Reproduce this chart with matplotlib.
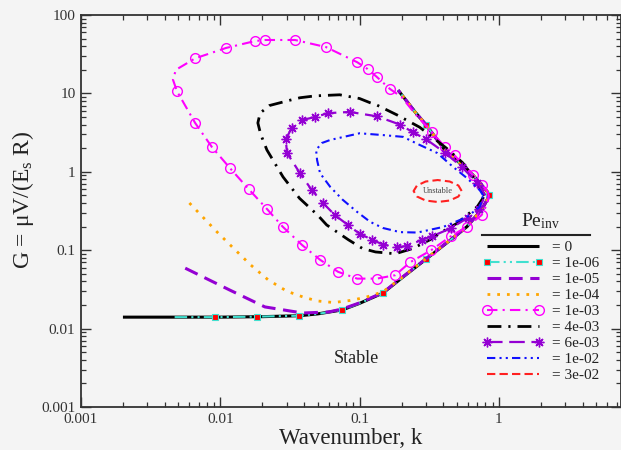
import matplotlib
matplotlib.use("Agg")
import matplotlib.pyplot as plt
import matplotlib.ticker as mticker

plt.rcParams['font.family'] = ['Liberation Serif', 'DejaVu Serif']
plt.rcParams['mathtext.fontset'] = 'custom'
plt.rcParams['mathtext.rm'] = 'Liberation Serif'
plt.rcParams['mathtext.it'] = 'Liberation Serif:italic'

# ---------------- data ----------------
pe_labels = ["= 0", "= 1e-06", "= 1e-05", "= 1e-04", "= 1e-03",
             "= 4e-03", "= 6e-03", "= 1e-02", "= 3e-02"]

k_pe0 = [0.002, 0.005, 0.01, 0.02, 0.037, 0.05, 0.075, 0.1, 0.147, 0.2, 0.3, 0.4, 0.5,
         0.59, 0.7, 0.78, 0.83, 0.845, 0.83, 0.75, 0.65, 0.55, 0.41, 0.3, 0.25, 0.189]
G_pe0 = [0.014, 0.014, 0.014, 0.0142, 0.0146, 0.0154, 0.0173, 0.021, 0.0284, 0.044, 0.077,
         0.115, 0.157, 0.2, 0.285, 0.37, 0.45, 0.5, 0.55, 0.68, 0.91, 1.2, 1.88, 3.96, 5.8, 11]

k_pe1e6 = [0.0047, 0.0092, 0.0183, 0.0367, 0.05, 0.075, 0.1, 0.147, 0.2, 0.3, 0.4, 0.5,
           0.59, 0.7, 0.78, 0.83, 0.845, 0.83, 0.75, 0.65, 0.55, 0.41, 0.3, 0.25, 0.189]
G_pe1e6 = [0.014, 0.014, 0.0142, 0.0146, 0.0154, 0.0173, 0.021, 0.0284, 0.044, 0.077,
           0.115, 0.157, 0.2, 0.285, 0.37, 0.45, 0.5, 0.55, 0.68, 0.91, 1.2, 1.88, 3.96, 5.8, 11]

k_pe1e5 = [0.0056, 0.0117, 0.0209, 0.039, 0.06, 0.075, 0.1, 0.147, 0.2, 0.3, 0.4, 0.5,
           0.59, 0.7, 0.78, 0.83, 0.845, 0.83, 0.75, 0.65, 0.55, 0.41, 0.3, 0.25, 0.189]
G_pe1e5 = [0.059, 0.031, 0.0189, 0.0158, 0.0163, 0.0178, 0.0213, 0.0288, 0.0445, 0.078,
           0.116, 0.158, 0.2, 0.285, 0.37, 0.45, 0.5, 0.55, 0.68, 0.91, 1.2, 1.88, 3.96, 5.8, 11]

k_pe1e4 = [0.006, 0.0095, 0.0125, 0.0165, 0.022, 0.03, 0.04, 0.05, 0.065, 0.085, 0.11,
           0.147, 0.2, 0.3, 0.4, 0.5, 0.59, 0.7, 0.78, 0.83, 0.845, 0.83, 0.75, 0.65, 0.55,
           0.41, 0.3, 0.25, 0.189]
G_pe1e4 = [0.4, 0.17, 0.105, 0.065, 0.042, 0.03, 0.025, 0.0225, 0.0215, 0.0228, 0.025,
           0.0295, 0.0445, 0.078, 0.116, 0.158, 0.2, 0.285, 0.37, 0.45, 0.5, 0.55, 0.68,
           0.91, 1.2, 1.88, 3.96, 5.8, 11]

k_pe1e3 = [0.845, 0.83, 0.76, 0.65, 0.48, 0.41, 0.33, 0.25, 0.2, 0.165, 0.133, 0.114, 0.096,
           0.0573, 0.0344, 0.021, 0.0178, 0.011, 0.0066, 0.0048, 0.00457, 0.00488, 0.0066,
           0.0087, 0.0117, 0.016, 0.0216, 0.028, 0.0387, 0.052, 0.07, 0.096, 0.133, 0.18,
           0.23, 0.326, 0.45, 0.59, 0.75, 0.83, 0.845]
G_pe1e3 = [0.5, 0.56, 0.68, 0.91, 1.62, 2.07, 3.2, 5.5, 9.0, 11.4, 16.2, 20.5, 25, 39, 48,
           48, 46.6, 38, 28, 20, 15, 10.7, 4.19, 2.07, 1.12, 0.6, 0.336, 0.2, 0.116, 0.0755,
           0.053, 0.0434, 0.0434, 0.048, 0.07, 0.1, 0.15, 0.2, 0.28, 0.4, 0.5]

k_pe4e3 = [0.79, 0.7, 0.55, 0.42, 0.33, 0.27, 0.186, 0.133, 0.119, 0.1, 0.072, 0.048, 0.0373,
           0.0317, 0.0225, 0.0193, 0.0186, 0.0195, 0.0216, 0.0282, 0.037, 0.05, 0.058, 0.083,
           0.105, 0.13, 0.18, 0.24, 0.32, 0.376, 0.5, 0.7, 0.79]
G_pe4e3 = [0.5, 0.72, 1.3, 2.0, 2.8, 3.7, 5.3, 7.1, 7.6, 8.6, 9.6, 9.3, 8.8, 8.2, 7.0, 5.6,
           4.2, 3.0, 1.9, 0.86, 0.46, 0.28, 0.21, 0.136, 0.105, 0.095, 0.09, 0.105, 0.136,
           0.165, 0.22, 0.36, 0.5]

k_pe6e3 = [0.8, 0.7, 0.54, 0.41, 0.3, 0.241, 0.195, 0.133, 0.085, 0.0593, 0.048, 0.0387,
           0.0325, 0.0295, 0.0301, 0.0373, 0.0455, 0.0546, 0.0665, 0.0823, 0.1, 0.123, 0.147,
           0.185, 0.22, 0.28, 0.33, 0.45, 0.6, 0.72, 0.8]
G_pe6e3 = [0.5, 0.72, 1.16, 1.75, 2.6, 3.2, 4.0, 5.1, 5.8, 5.6, 5.0, 4.58, 3.6, 2.6, 1.74,
           0.96, 0.58, 0.40, 0.28, 0.21, 0.162, 0.136, 0.118, 0.11, 0.113, 0.136, 0.15, 0.19,
           0.26, 0.34, 0.5]

k_pe1e2 = [0.77, 0.73, 0.59, 0.47, 0.36, 0.27, 0.205, 0.147, 0.1, 0.0616, 0.0536, 0.0487,
           0.0495, 0.052, 0.0616, 0.0756, 0.0955, 0.119, 0.147, 0.195, 0.26, 0.398, 0.59,
           0.73, 0.77]
G_pe1e2 = [0.5, 0.58, 0.83, 1.15, 1.74, 2.2, 2.79, 2.94, 3.1, 2.55, 2.33, 1.9, 1.41, 0.96,
           0.64, 0.44, 0.31, 0.23, 0.192, 0.17, 0.168, 0.198, 0.265, 0.36, 0.5]

k_pe3e2 = [0.54, 0.512, 0.443, 0.363, 0.298, 0.258, 0.244, 0.258, 0.298, 0.363, 0.443,
           0.512, 0.54]
G_pe3e2 = [0.569, 0.668, 0.752, 0.785, 0.752, 0.668, 0.569, 0.484, 0.43, 0.412, 0.43,
           0.484, 0.569]

x_ticks = [0.001, 0.01, 0.1, 1]
y_ticks = [0.001, 0.01, 0.1, 1, 10, 100]

# ---------------- figure ----------------
bg = '#f4f4f4'
fig = plt.figure(figsize=(6.21, 4.5), dpi=100, facecolor=bg)
ax = fig.add_axes([81/621, 43/450, 540/621, 392/450], facecolor=bg)

handles = []
h, = ax.plot(k_pe0, G_pe0, color='black', lw=2.2, solid_capstyle='butt')
handles.append(h)
h, = ax.plot(k_pe1e6, G_pe1e6, color='#40E0D0', lw=1.5,
             linestyle=(0, (6, 2, 1, 2, 1, 2)),
             marker='s', ms=4.5, mfc='red', mec='#40E0D0', mew=0.8,
             markevery=[1, 2, 3, 5, 7, 9, 16, 22])
handles.append(h)
h, = ax.plot(k_pe1e5, G_pe1e5, color='#9400D3', lw=2.2, linestyle=(0, (4.5, 2.5)))
handles.append(h)
h, = ax.plot(k_pe1e4, G_pe1e4, color='#FFA500', lw=2.0, linestyle=(0, (1, 2.5)))
handles.append(h)
h, = ax.plot(k_pe1e3, G_pe1e3, color='#FF00FF', lw=1.5, linestyle=(0, (5, 2.5, 1, 2.5)),
             marker='o', ms=7, mfc='none', mec='#FF00FF', mew=1.0,
             markevery=[2, 3, 4, 5, 6, 9, 10, 11, 12, 13, 14, 15, 16, 17, 18, 21, 22, 23, 24,
                        25, 26, 27, 28, 29, 30, 31, 32, 33, 34, 35, 36, 37, 38])
handles.append(h)
h, = ax.plot(k_pe4e3, G_pe4e3, color='black', lw=2.0, linestyle=(0, (5, 2.5, 0.8, 2.5)))
handles.append(h)
h, = ax.plot(k_pe6e3, G_pe6e3, color='#9400D3', lw=1.6, linestyle=(0, (7, 3)),
             marker=(8, 2, 0), ms=7, mec='#9400D3', mew=1.0,
             markevery=list(range(1, 30)))
handles.append(h)
h, = ax.plot(k_pe1e2, G_pe1e2, color='#1010FF', lw=1.5, linestyle=(0, (4, 2, 1, 2, 1, 2)))
handles.append(h)
h, = ax.plot(k_pe3e2, G_pe3e2, color='#FF2020', lw=1.5, linestyle=(0, (4, 2)))
handles.append(h)

ax.set_xscale('log')
ax.set_yscale('log')
ax.set_xlim(0.001, 7.52)
ax.set_ylim(0.001, 100)

fmt = mticker.FuncFormatter(lambda v, _: f"{v:g}")
ax.set_xticks(x_ticks)
ax.set_yticks(y_ticks)
ax.xaxis.set_major_formatter(fmt)
ax.yaxis.set_major_formatter(fmt)
ax.xaxis.set_minor_locator(mticker.LogLocator(base=10, subs=range(2, 10)))
ax.yaxis.set_minor_locator(mticker.LogLocator(base=10, subs=range(2, 10)))
ax.xaxis.set_minor_formatter(mticker.NullFormatter())
ax.yaxis.set_minor_formatter(mticker.NullFormatter())
ax.tick_params(which='both', direction='in', top=True, right=True, colors='#333333',
               labelsize=11)
ax.tick_params(which='major', length=7, width=1.0, pad=4)
ax.tick_params(which='minor', length=3.5, width=0.9)
for s in ax.spines.values():
    s.set_color('#333333')
    s.set_linewidth(1.3)

ax.set_xlabel('Wavenumber, k', fontsize=16.5, color='#222222', labelpad=2)
ax.set_ylabel(r'G = μV/(E$_{\mathrm{s}}$ R)', fontsize=17, color='#222222')
ax.yaxis.set_label_coords(-0.084, 0.528)

ax.text(0.0943, 0.0042, 'Stable', fontsize=13, ha='center', va='center', color='#222222')
ax.text(0.364, 0.57, 'Unstable', fontsize=6, ha='center', va='center', color='#444444')

leg = ax.legend(handles, pe_labels, title=r'Pe$_{\mathrm{inv}}$', loc='upper left',
                bbox_to_anchor=(0.743, 0.50), borderaxespad=0, borderpad=0,
                frameon=False, fontsize=11, title_fontsize=14, handlelength=4.0,
                handletextpad=0.6, labelspacing=0.15, numpoints=2, markerscale=1.0)
leg._legend_box.sep = 7
for t in leg.get_texts():
    t.set_color('#222222')
leg.get_title().set_color('#222222')
ax.plot([0.743, 0.943], [0.439, 0.439], transform=ax.transAxes, color='#222222', lw=1.5,
        clip_on=False)

fig.savefig('out.png', dpi=100, facecolor=bg)
